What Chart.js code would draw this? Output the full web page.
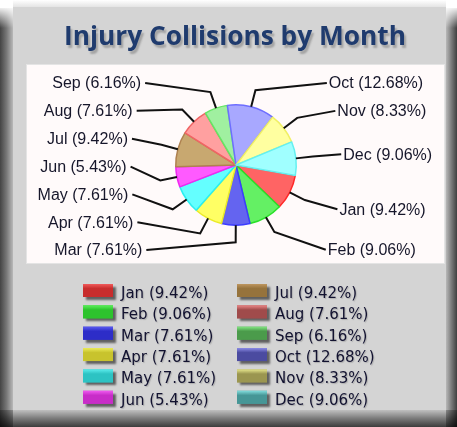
<!DOCTYPE html>
<html><head><meta charset="utf-8">
<script src="https://cdn.jsdelivr.net/npm/chart.js@4"></script>
<style>html,body{margin:0;padding:0;background:#fff;}canvas{display:block;}</style>
</head><body>
<canvas id="c" width="457" height="427" style="width:457px;height:427px"></canvas>
<script>
// ---- data ----
const chartTitle = 'Injury Collisions by Month';
const months = ['Jan','Feb','Mar','Apr','May','Jun','Jul','Aug','Sep','Oct','Nov','Dec'];
const sharePct = [9.42, 9.06, 7.61, 7.61, 7.61, 5.43, 9.42, 7.61, 6.16, 12.68, 8.33, 9.06];

// ---- styles ----
const sliceFill = ['rgb(255,100,100)','rgb(100,240,100)','rgb(100,100,240)','rgb(255,255,100)','rgb(100,255,255)','rgb(255,90,255)',
                   'rgb(200,168,112)','rgb(255,160,160)','rgb(160,240,160)','rgb(168,168,255)','rgb(255,255,160)','rgb(160,255,255)'];
const sliceEdge = ['rgb(255,40,40)','rgb(40,225,40)','rgb(60,60,255)','rgb(235,235,40)','rgb(40,240,240)','rgb(240,40,240)',
                   'rgb(175,130,80)','rgb(240,100,100)','rgb(100,230,100)','rgb(110,110,255)','rgb(240,240,100)','rgb(100,240,240)'];
const legendFill = ['rgb(200,45,45)','rgb(45,195,45)','rgb(45,45,200)','rgb(200,195,45)','rgb(45,195,195)','rgb(200,45,200)',
                    'rgb(150,115,60)','rgb(160,75,75)','rgb(75,155,75)','rgb(75,75,160)','rgb(155,150,80)','rgb(70,150,150)'];
const legendTop  = ['rgb(240,90,90)','rgb(90,240,90)','rgb(90,90,240)','rgb(235,235,90)','rgb(90,235,235)','rgb(240,90,240)',
                    'rgb(190,150,95)','rgb(235,135,135)','rgb(130,230,130)','rgb(140,140,230)','rgb(230,230,140)','rgb(130,220,220)'];

function labelText(i){ return months[i] + ' (' + sharePct[i].toFixed(2) + '%)'; }

const framePlugin = {
  id: 'frame',
  beforeDraw(chart){
    const ctx = chart.ctx, W = chart.width, H = chart.height;
    ctx.save();
    ctx.fillStyle = '#ffffff'; ctx.fillRect(0,0,W,H);
    let g = ctx.createLinearGradient(0,0,13,0);
    g.addColorStop(0,'#444444'); g.addColorStop(0.5,'#777777'); g.addColorStop(1,'#b8b8b8');
    ctx.fillStyle = g; ctx.fillRect(0,8,13,H-8);
    g = ctx.createLinearGradient(446,0,W,0);
    g.addColorStop(0,'#b8b8b8'); g.addColorStop(0.5,'#7a7a7a'); g.addColorStop(1,'#404040');
    ctx.fillStyle = g; ctx.fillRect(446,8,W-446,H-8);
    g = ctx.createLinearGradient(0,6,0,28);
    g.addColorStop(0,'rgba(255,255,255,1)'); g.addColorStop(1,'rgba(255,255,255,0)');
    ctx.fillStyle = g; ctx.fillRect(0,6,13,22); ctx.fillRect(446,6,W-446,22);
    ctx.globalCompositeOperation = 'multiply';
    g = ctx.createLinearGradient(0,410,0,H);
    g.addColorStop(0,'#c0c0c0'); g.addColorStop(0.5,'#7a7a7a'); g.addColorStop(1,'#3c3c3c');
    ctx.fillStyle = g; ctx.fillRect(0,410,W,H-410);
    ctx.globalCompositeOperation = 'source-over';
    g = ctx.createLinearGradient(0,0,0,7);
    g.addColorStop(0,'rgba(210,210,210,0)'); g.addColorStop(1,'rgba(210,210,210,0.6)');
    ctx.fillStyle = g; ctx.fillRect(13,0,433,7);
    ctx.fillStyle = '#d4d4d4'; ctx.fillRect(13,7,433,403);
    ctx.fillStyle = '#fffafa'; ctx.fillRect(27,65,417,198);
    ctx.strokeStyle = '#e4e4e4'; ctx.lineWidth = 1; ctx.strokeRect(26.5,64.5,418,199);
    // title, sized to span the same width as the original heading
    const fam = '"Open Sans", Lato, "DejaVu Sans", sans-serif';
    ctx.font = 'bold 24px ' + fam;
    const fs = 24 * 342 / ctx.measureText(chartTitle).width;
    ctx.font = 'bold ' + fs.toFixed(2) + 'px ' + fam;
    ctx.textAlign = 'center'; ctx.textBaseline = 'alphabetic';
    ctx.shadowColor = 'rgba(70,70,70,0.35)'; ctx.shadowOffsetX = 2; ctx.shadowOffsetY = 3; ctx.shadowBlur = 2;
    ctx.fillStyle = '#1f3b6e';
    ctx.fillText(chartTitle, 235, 45);
    ctx.restore();
  }
};

const outsideLabels = {
  id: 'outsideLabels',
  afterDatasetsDraw(chart){
    const ctx = chart.ctx;
    const arcs = chart.getDatasetMeta(0).data;
    if (!arcs.length) return;
    const cx = arcs[0].x, cy = arcs[0].y, r = arcs[0].outerRadius;
    const items = arcs.map((a,i) => {
      const m = (a.startAngle + a.endAngle) / 2;
      return { i, side: Math.cos(m) >= 0 ? 1 : -1,
        ex: cx + r*Math.cos(m), ey: cy + r*Math.sin(m),
        bx: cx + (r+17)*Math.cos(m), by: cy + (r+17)*Math.sin(m),
        y: cy + r*1.62*Math.sin(m) };
    });
    const top = cy - r*1.36, bot = cy + r*1.41, gap = 27.8;
    [1,-1].forEach(s => {
      const L = items.filter(o => o.side === s).sort((p,q) => p.y - q.y);
      for (let k=0;k<L.length;k++) L[k].y = Math.max(L[k].y, k ? L[k-1].y+gap : top);
      for (let k=L.length-1;k>=0;k--) L[k].y = Math.min(L[k].y, k<L.length-1 ? L[k+1].y-gap : bot);
      for (let k=0;k<L.length;k++) L[k].y = Math.max(L[k].y, k ? L[k-1].y+gap : top);
    });
    const ea = r*1.75, eb = r*2.68;
    ctx.save();
    ctx.strokeStyle = '#111111'; ctx.lineWidth = 2; ctx.lineJoin = 'miter';
    ctx.font = '16px "Liberation Sans", Arial, sans-serif';
    ctx.fillStyle = '#16162a'; ctx.textBaseline = 'middle';
    items.forEach(o => {
      const dy = (o.y - cy) / eb;
      const ax = cx + o.side * ea * Math.sqrt(Math.max(0, 1 - dy*dy));
      ctx.beginPath(); ctx.moveTo(o.ex,o.ey); ctx.lineTo(o.bx,o.by); ctx.lineTo(ax,o.y); ctx.stroke();
      if (o.side > 0) { ctx.textAlign = 'left'; ctx.fillText(labelText(o.i), ax+2, o.y+1); }
      else { ctx.textAlign = 'right'; ctx.fillText(labelText(o.i), ax-4, o.y+1); }
    });
    ctx.restore();
  }
};

const monthLegend = {
  id: 'monthLegend',
  afterDraw(chart){
    const ctx = chart.ctx;
    const colX = [83, 237], base0 = 298, pitch = 21.35, perCol = 6;
    ctx.save();
    ctx.font = '15px "DejaVu Sans", Verdana, sans-serif';
    ctx.textAlign = 'left'; ctx.textBaseline = 'alphabetic';
    chart.data.labels.forEach((lab, i) => {
      const x = colX[Math.floor(i/perCol)], base = base0 + (i%perCol)*pitch;
      const by = base - 14;
      ctx.save();
      ctx.shadowColor = 'rgba(0,0,0,0.55)'; ctx.shadowOffsetX = 3; ctx.shadowOffsetY = 3; ctx.shadowBlur = 2;
      ctx.fillStyle = legendFill[i]; ctx.fillRect(x, by, 30, 13);
      ctx.restore();
      const g = ctx.createLinearGradient(0, by, 0, by+13);
      g.addColorStop(0, legendTop[i]); g.addColorStop(0.35, legendFill[i]); g.addColorStop(1, legendFill[i]);
      ctx.fillStyle = g; ctx.fillRect(x, by, 30, 13);
      ctx.save();
      ctx.shadowColor = 'rgba(0,0,0,0.18)'; ctx.shadowOffsetX = 1; ctx.shadowOffsetY = 1; ctx.shadowBlur = 1;
      ctx.fillStyle = '#121230';
      ctx.fillText(labelText(i), x + 38, base);
      ctx.restore();
    });
    ctx.restore();
  }
};

new Chart(document.getElementById('c'), {
  type: 'pie',
  data: {
    labels: months,
    datasets: [{
      data: sharePct,
      backgroundColor: sliceFill,
      borderColor: sliceEdge,
      borderWidth: 1.5
    }]
  },
  options: {
    responsive: false,
    animation: false,
    events: [],
    rotation: 100,
    layout: { padding: { top: 104, bottom: 201, left: 175, right: 160 } },
    plugins: { legend: { display: false }, tooltip: { enabled: false }, title: { display: false } }
  },
  plugins: [framePlugin, outsideLabels, monthLegend]
});
</script>
</body></html>
